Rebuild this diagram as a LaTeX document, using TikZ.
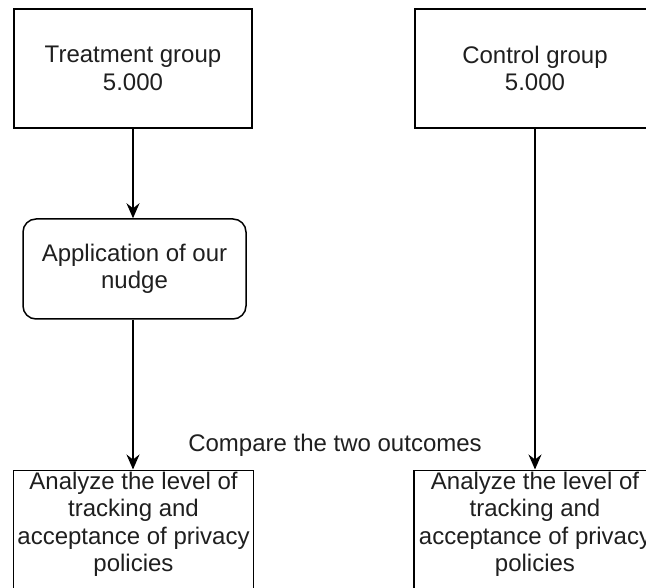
\documentclass[tikz,border=0pt]{standalone}
\usepackage{fontspec}
\setmainfont{Liberation Sans}
\usetikzlibrary{arrows.meta}
\begin{document}
\begin{tikzpicture}[x=1pt,y=-1pt,
  box/.style={draw=black, line width=1.5pt, fill=white, minimum width=238pt, minimum height=119pt, inner sep=0pt},
  rbox/.style={box, rounded corners=13pt, minimum width=223pt, minimum height=100pt},
  txt/.style={align=center, inner sep=0pt, text=black!88, font=\fontsize{24}{27.5}\selectfont},
  arr/.style={draw=black, line width=1.5pt, -{Stealth[length=15pt, width=13pt, inset=5pt]}}
]
\useasboundingbox (0,0) rectangle (646,588);
\clip (0,0) rectangle (646,588);
% top boxes
\node[box] (treat) at (133,68.5) {};
\node[txt] (treatT) at (133,68.5) {Treatment group\\5.000};
\node[box, minimum width=240pt] (ctrl) at (535,68.5) {};
\node[txt] (ctrlT) at (535,68.5) {Control group\\5.000};
% nudge
\node[rbox] (nudge) at (134.5,269) {};
\node[txt] (nudgeT) at (134.5,269) {Application of our\\nudge};
% bottom boxes
\node[box, anchor=north, minimum width=240pt, minimum height=140pt] (anL) at (133.5,469.5) {};
\node[txt] (anLT) at (133.5,524.5) {Analyze the level of\\tracking and\\acceptance of privacy\\policies};
\node[box, anchor=north, minimum width=242pt, minimum height=140pt] (anR) at (535,469.5) {};
\node[txt] (anRT) at (535,524.5) {Analyze the level of\\tracking and\\acceptance of privacy\\policies};
% label
\node[txt] (cmp) at (335,445) {Compare the two outcomes};
% arrows
\draw[arr] (treat.south) -- (treat.south |- nudge.north);
\draw[arr] (nudge.south -| treat.south) -- (treat.south |- anL.north);
\draw[arr] (ctrl.south) -- (ctrl.south |- anR.north);
\end{tikzpicture}
\end{document}
